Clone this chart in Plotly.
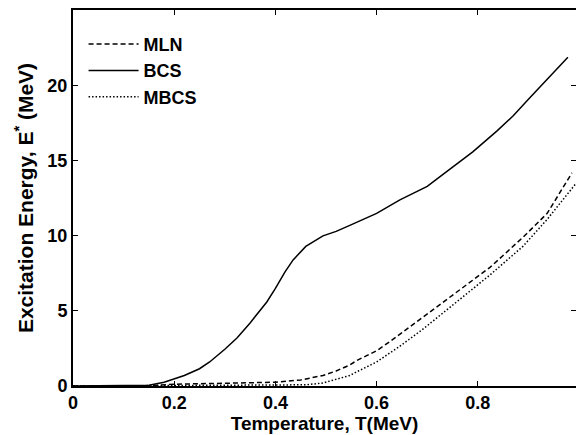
import plotly.graph_objects as go

# Temperature grids and excitation energies (MeV)
t_bcs = [0, 0.05, 0.10, 0.15, 0.18, 0.20, 0.22, 0.25, 0.27, 0.30, 0.324, 0.35, 0.383, 0.40, 0.419,
         0.435, 0.46, 0.494, 0.52, 0.547, 0.60, 0.646, 0.70, 0.739, 0.79, 0.838, 0.87, 0.90, 0.949, 0.978]
e_bcs = [0, 0, 0.01, 0.05, 0.25, 0.45, 0.7, 1.15, 1.6, 2.45, 3.2, 4.2, 5.6, 6.5, 7.6,
         8.4, 9.3, 10.0, 10.3, 10.7, 11.5, 12.4, 13.3, 14.3, 15.6, 17.0, 18.0, 19.1, 20.9, 21.9]

t_mln = [0, 0.10, 0.15, 0.20, 0.30, 0.40, 0.45, 0.494, 0.52, 0.547, 0.561, 0.60, 0.626, 0.646,
         0.692, 0.759, 0.824, 0.889, 0.937, 0.986]
e_mln = [0, 0, 0.02, 0.12, 0.18, 0.25, 0.4, 0.7, 1.0, 1.4, 1.7, 2.35, 2.95, 3.45,
         4.6, 6.3, 7.9, 9.9, 11.5, 14.2]

t_mbcs = [0, 0.20, 0.40, 0.46, 0.494, 0.52, 0.547, 0.561, 0.60, 0.626, 0.646, 0.692, 0.759,
          0.824, 0.889, 0.937, 0.994]
e_mbcs = [0, 0.02, 0.05, 0.08, 0.2, 0.45, 0.7, 0.95, 1.6, 2.2, 2.65, 3.8, 5.6,
          7.4, 9.3, 11.1, 13.5]

x_ticks = [0, 0.2, 0.4, 0.6, 0.8]
x_labels = ["0", "0.2", "0.4", "0.6", "0.8"]
y_ticks = [0, 5, 10, 15, 20]
series_names = ["MLN", "BCS", "MBCS"]

FONT = "Liberation Sans, Arial, sans-serif"

fig = go.Figure()
fig.add_trace(go.Scatter(x=t_mln, y=e_mln, mode="lines", name="<b>%s</b>" % series_names[0],
                         line=dict(color="black", width=1.5, dash="5px,3px")))
fig.add_trace(go.Scatter(x=t_bcs, y=e_bcs, mode="lines", name="<b>%s</b>" % series_names[1],
                         line=dict(color="black", width=1.5)))
fig.add_trace(go.Scatter(x=t_mbcs, y=e_mbcs, mode="lines", name="<b>%s</b>" % series_names[2],
                         line=dict(color="black", width=1.5, dash="1.5px,2px")))

axis_common = dict(showline=True, linecolor="black", linewidth=2, mirror="ticks",
                   ticks="inside", ticklen=5, tickwidth=1, tickcolor="black",
                   showgrid=False, zeroline=False, automargin=False,
                   tickfont=dict(family=FONT, size=18, color="black"))

fig.update_xaxes(range=[0, 0.994], tickvals=x_ticks,
                 ticktext=["<b>%s</b>" % s for s in x_labels],
                 ticklabelstandoff=-1,
                 title=dict(text="<b>Temperature, T(MeV)</b>", standoff=5,
                            font=dict(family=FONT, size=19, color="black")),
                 **axis_common)
fig.update_yaxes(range=[0, 25.05], tickvals=y_ticks,
                 ticktext=["<b>%d</b>" % v for v in y_ticks],
                 title=dict(text="<b>Excitation Energy, E<sup>*</sup> (MeV)</b>", standoff=8,
                            font=dict(family=FONT, size=21, color="black")),
                 **axis_common)

fig.update_layout(
    width=576, height=435,
    margin=dict(l=73, r=0, t=10, b=49),
    plot_bgcolor="white", paper_bgcolor="white",
    font=dict(family=FONT, size=18, color="black"),
    legend=dict(x=0.021, y=0.958, xanchor="left", yanchor="top",
                bgcolor="rgba(0,0,0,0)", borderwidth=0, itemwidth=50,
                font=dict(family=FONT, size=18, color="black"),
                tracegroupgap=0),
)

fig.write_html("out.html", config={"displayModeBar": False},
               post_script="document.body.style.margin='0';document.body.style.padding='0';")
